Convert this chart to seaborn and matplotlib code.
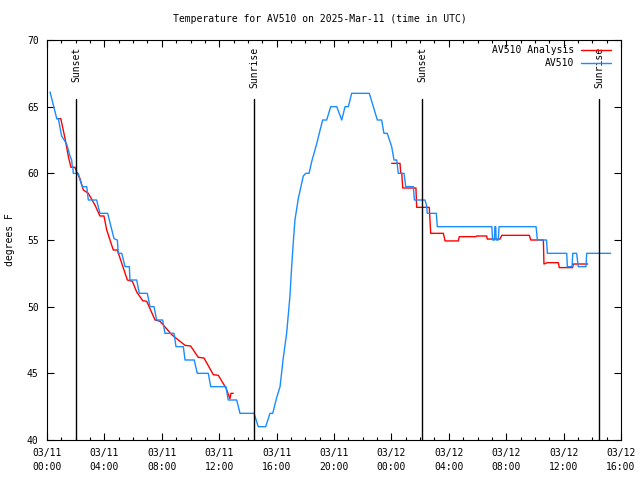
import matplotlib
matplotlib.use("Agg")
import numpy as np
import pandas as pd
import seaborn as sns
import matplotlib.pyplot as plt
import matplotlib.dates as mdates
from matplotlib.lines import Line2D

# hours after 2025-03-11 00:00 UTC
blue_hours = [0.21, 0.40, 0.68, 0.79, 1.02, 1.37, 1.60, 1.72, 1.76, 1.80, 1.83, 2.18, 2.30, 2.46,
              2.77, 2.82, 2.88, 3.46, 3.57, 3.69, 4.23, 4.39, 4.67, 4.90, 4.97, 5.21, 5.44, 5.74,
              5.78, 6.25, 6.43, 6.99, 7.18, 7.46, 7.64, 8.06, 8.22, 8.85, 8.99, 9.50, 9.62, 10.26,
              10.47, 11.24, 11.41, 12.47, 12.63, 13.22, 13.45, 14.43, 14.72, 15.24, 15.54, 15.73,
              16.01, 16.24, 16.47, 16.70, 16.93, 17.05, 17.16, 17.28, 17.51, 17.86, 18.03, 18.26,
              18.45, 18.79, 19.02, 19.21, 19.49, 19.77, 20.19, 20.54, 20.77, 21.00, 21.23, 22.46,
              22.74, 23.02, 23.32, 23.48, 23.71, 24.02, 24.18, 24.37, 24.48, 24.88, 25.00, 25.53,
              25.60, 26.34, 26.45, 26.50, 27.13, 27.20, 31.00, 31.05, 31.18, 31.21, 31.27, 31.30,
              31.45, 31.50, 34.08, 34.13, 34.17, 34.81, 34.87, 36.22, 36.26, 36.59, 36.64, 36.91,
              37.02, 37.56, 37.61, 39.28]
blue_temps = [66.1, 65.3, 64.1, 64.1, 62.8, 62.2, 61.3, 61.0, 60.5, 60.5, 60.0, 60.0, 59.5, 59.0,
              59.0, 58.5, 58.0, 58.0, 57.5, 57.0, 57.0, 56.3, 55.1, 55.0, 54.0, 54.0, 53.0, 53.0,
              52.0, 52.0, 51.0, 51.0, 50.0, 50.0, 49.0, 49.0, 48.0, 48.0, 47.0, 47.0, 46.0, 46.0,
              45.0, 45.0, 44.0, 44.0, 43.0, 43.0, 42.0, 42.0, 41.0, 41.0, 42.0, 42.0,
              43.2, 44.0, 46.2, 48.0, 50.8, 53.0, 54.8, 56.5, 58.1, 59.8, 60.0, 60.0,
              60.9, 62.2, 63.2, 64.0, 64.0, 65.0, 65.0, 64.0, 65.0, 65.0, 66.0, 66.0,
              65.0, 64.0, 64.0, 63.0, 63.0, 62.0, 61.0, 61.0, 60.0, 60.0, 59.0, 59.0,
              58.0, 58.0, 57.6, 57.0, 57.0, 56.0, 56.0, 55.0, 55.0, 56.0, 56.0, 55.0,
              55.0, 56.0, 56.0, 55.5, 55.0, 55.0, 54.0, 54.0, 53.0, 53.0, 54.0, 54.0,
              53.0, 53.0, 54.0, 54.0]

# analysis series has a gap between the two nights
red1_hours = [0.68, 0.96, 1.10, 1.26, 1.49, 1.67, 1.95, 2.07, 2.30, 2.53, 2.88, 3.35, 3.69, 3.97,
              4.16, 4.39, 4.62, 4.90, 5.21, 5.60, 5.95, 6.25, 6.67, 6.95, 7.53, 7.88, 8.69, 9.62,
              10.01, 10.54, 10.94, 11.59, 11.94, 12.47, 12.75, 12.82, 12.98]
red1_temps = [64.1, 64.1, 63.4, 62.6, 61.25, 60.45, 60.45, 60.1, 59.6, 58.75, 58.5, 57.6, 56.8, 56.8,
              55.75, 55.0, 54.25, 54.25, 53.25, 52.0, 51.9, 51.1, 50.45, 50.4, 49.0, 48.9, 47.9, 47.1,
              47.05, 46.2, 46.15, 44.9, 44.85, 43.9, 43.1, 43.5, 43.5]
red2_hours = [24.02, 24.60, 24.65, 24.72, 24.79, 25.71, 25.76, 26.64, 26.74, 27.62, 27.74, 28.66,
              28.73, 29.90, 29.94, 30.64, 30.68, 31.57, 31.69, 33.61, 33.71, 34.59, 34.63, 34.86,
              35.63, 35.70, 36.63, 36.68, 37.68]
red2_temps = [60.75, 60.75, 60.0, 60.0, 58.9, 58.9, 57.45, 57.45, 55.5, 55.5, 54.93, 54.93,
              55.25, 55.25, 55.3, 55.3, 55.07, 55.07, 55.35, 55.35, 55.0, 55.0, 53.2, 53.3,
              53.3, 52.93, 52.93, 53.2, 53.2]

sun_events = ["Sunset", "Sunrise", "Sunset", "Sunrise"]
sun_hours = [2.03, 14.45, 26.15, 38.49]

start = pd.Timestamp("2025-03-11 00:00")

blue_df = pd.DataFrame({"time": start + pd.to_timedelta(blue_hours, unit="h"), "temp": blue_temps})
red_df = pd.concat([
    pd.DataFrame({"time": start + pd.to_timedelta(red1_hours, unit="h"), "temp": red1_temps, "seg": 1}),
    pd.DataFrame({"time": start + pd.to_timedelta(red2_hours, unit="h"), "temp": red2_temps, "seg": 2}),
])

sns.set_style("ticks")
plt.rcParams["font.family"] = ["DejaVu Sans Mono"]
plt.rcParams["font.size"] = 7
# gnuplot look: everything in plain black
for key in ["text.color", "axes.labelcolor", "xtick.color", "ytick.color", "axes.edgecolor"]:
    plt.rcParams[key] = "black"

red = "#ff0000"
blue = "#1a8cff"

fig, ax = plt.subplots(figsize=(6.4, 4.8), dpi=100)
fig.subplots_adjust(left=47 / 640, right=621 / 640, bottom=40 / 480, top=440 / 480)

sns.lineplot(data=red_df, x="time", y="temp", units="seg", estimator=None, sort=False,
             color=red, lw=1, ax=ax)
sns.lineplot(data=blue_df, x="time", y="temp", estimator=None, sort=False,
             color=blue, lw=1, ax=ax)

# sunrise / sunset markers
for name, h in zip(sun_events, sun_hours):
    t = start + pd.Timedelta(hours=h)
    ax.axvline(t, ymin=0, ymax=0.853, color="black", lw=1)
    ax.text(t, 0.983, name, transform=ax.get_xaxis_transform(), rotation=90,
            ha="center", va="top", fontsize=7, color="black")

ax.set_xlim(start, start + pd.Timedelta(hours=40))
ax.set_ylim(40, 70)
ax.set_yticks(np.arange(40, 71, 5))
ax.xaxis.set_major_locator(mdates.HourLocator(byhour=range(0, 24, 4)))
ax.xaxis.set_minor_locator(mdates.HourLocator())
ax.xaxis.set_major_formatter(mdates.DateFormatter("%m/%d\n%H:%M"))

ax.tick_params(which="major", direction="in", length=5, width=0.8, top=True, right=True,
               labelsize=7, pad=6, colors="black")
ax.tick_params(axis="x", which="minor", direction="in", length=2.5, width=0.8, top=True,
               colors="black")
for side in ax.spines.values():
    side.set_linewidth(0.8)
    side.set_color("black")

ax.set_xlabel("")
ax.set_ylabel("degrees F", fontsize=7, color="black")
ax.yaxis.set_label_coords(-0.056, 0.5)

fig.text(0.5, 1 - 19 / 480, "Temperature for AV510 on 2025-Mar-11 (time in UTC)",
         ha="center", va="center", fontsize=7, color="black")

handles = [Line2D([], [], color=red, lw=1), Line2D([], [], color=blue, lw=1)]
ax.legend(handles, ["AV510 Analysis", "AV510"], loc="upper right", frameon=False,
          markerfirst=False, bbox_to_anchor=(611 / 640, 1 - 45 / 480),
          bbox_transform=fig.transFigure, borderpad=0, borderaxespad=0,
          handlelength=3.1, handletextpad=0.7, labelspacing=0.35, fontsize=7,
          labelcolor="black")

fig.canvas.draw()
for lab in ax.get_xticklabels():
    lab.set_linespacing(1.45)

fig.savefig("out.png", dpi=100)
plt.close(fig)
